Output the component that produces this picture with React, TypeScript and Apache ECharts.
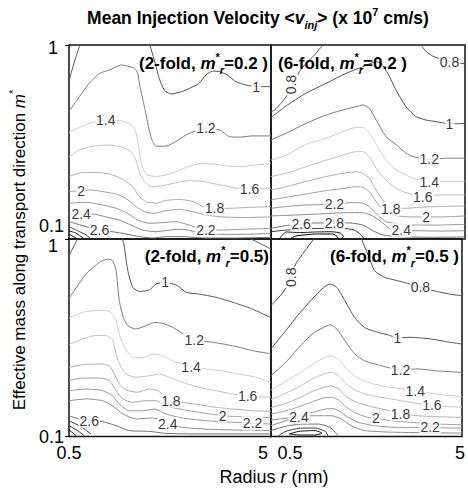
import React, { useEffect, useRef } from "react";
import * as echarts from "echarts";

const FONT = '"Liberation Sans", Arial, Helvetica, sans-serif';

// axis ranges / tick labels
const X_TICKS = [0.5, 5];
const Y_TICKS = [0.1, 1];

// ---------- Panel 1: 2-fold, m*r = 0.2 ----------
const tlLines = [
  { level: 1.0, pts: [[0.745, 1.0], [0.656, 0.871], [0.567, 0.743], [0.507, 0.66]] },
  { level: 1.0, pts: [[2.30, 1.0], [2.40, 0.837], [2.51, 0.673], [2.62, 0.586], [2.77, 0.559], [3.00, 0.574], [3.22, 0.603], [3.40, 0.635], [3.55, 0.70], [3.70, 0.734], [3.85, 0.729], [4.03, 0.70], [4.22, 0.647], [4.44, 0.622], [4.70, 0.61], [5.0, 0.61]] },
  { level: 1.2, pts: [[0.5, 0.455], [0.73, 0.541], [0.95, 0.635], [1.18, 0.714], [1.40, 0.743], [1.66, 0.789], [1.96, 0.759], [2.03, 0.714], [2.08, 0.61], [2.18, 0.481], [2.27, 0.379], [2.35, 0.324], [2.44, 0.301], [2.66, 0.301], [2.88, 0.318], [3.11, 0.344], [3.26, 0.357], [3.55, 0.372], [3.85, 0.365], [3.96, 0.351], [4.07, 0.337], [4.29, 0.335], [4.59, 0.34], [5.0, 0.34]] },
  { level: 1.4, pts: [[0.5, 0.355], [0.73, 0.376], [0.95, 0.394], [1.32, 0.41], [1.66, 0.407], [1.84, 0.394], [1.96, 0.372], [2.03, 0.324], [2.08, 0.266], [2.16, 0.227], [2.25, 0.214], [2.44, 0.21], [2.66, 0.214], [2.88, 0.222], [3.11, 0.234], [3.40, 0.244], [3.70, 0.244], [4.0, 0.238], [4.29, 0.236], [4.59, 0.24], [5.0, 0.245]] },
  { level: 1.6, pts: [[0.5, 0.265], [0.73, 0.288], [1.03, 0.301], [1.40, 0.305], [1.70, 0.297], [1.88, 0.282], [1.99, 0.255], [2.08, 0.218], [2.18, 0.198], [2.33, 0.186], [2.59, 0.188], [2.88, 0.195], [3.18, 0.2], [3.48, 0.198], [3.77, 0.192], [4.07, 0.186], [4.29, 0.182], [4.81, 0.182], [5.0, 0.182]] },
  { level: 1.8, pts: [[0.5, 0.21], [0.80, 0.22], [1.18, 0.22], [1.47, 0.214], [1.73, 0.201], [1.92, 0.186], [2.07, 0.165], [2.22, 0.156], [2.44, 0.153], [2.66, 0.158], [2.96, 0.16], [3.26, 0.156], [3.48, 0.147], [3.74, 0.144], [4.07, 0.144], [4.37, 0.145], [5.0, 0.147]] },
  { level: 2.0, pts: [[0.5, 0.1755], [0.99, 0.179], [1.25, 0.1755], [1.55, 0.1706], [1.77, 0.162], [1.99, 0.147], [2.18, 0.138], [2.40, 0.1355], [2.66, 0.14], [2.96, 0.142], [3.26, 0.138], [3.55, 0.133], [3.92, 0.13], [4.37, 0.129], [5.0, 0.13]] },
  { level: 2.2, pts: [[0.5, 0.153], [0.88, 0.1545], [1.25, 0.1497], [1.55, 0.144], [1.81, 0.1355], [2.03, 0.1253], [2.29, 0.1205], [2.59, 0.1214], [2.88, 0.1228], [3.18, 0.118], [3.55, 0.1112], [3.92, 0.1112], [4.37, 0.1122], [5.0, 0.1135]] },
  { level: 2.4, pts: [[0.5, 0.1346], [1.03, 0.1346], [1.32, 0.13], [1.62, 0.1253], [1.88, 0.118], [2.14, 0.1112], [2.44, 0.109], [2.74, 0.1112], [3.03, 0.1122], [3.40, 0.1079], [3.85, 0.1057], [4.37, 0.1057], [5.0, 0.1069]] },
  { level: 2.6, pts: [[0.5, 0.123], [0.58, 0.1214], [0.88, 0.1158], [1.18, 0.1112], [1.47, 0.109], [1.77, 0.1061], [2.07, 0.1028], [2.36, 0.1012], [2.66, 0.1028], [3.03, 0.1028], [3.55, 0.1012], [4.15, 0.1012], [5.0, 0.102]] },
  { level: 2.8, pts: [[0.5, 0.1158], [0.69, 0.1104], [0.88, 0.105], [0.99, 0.1]] },
  { level: 3.0, pts: [[0.5, 0.1104], [0.66, 0.107], [0.84, 0.1]] },
  { level: 3.2, pts: [[0.5, 0.106], [0.69, 0.1]] },
];
const tlLabels = [
  ["1", 4.67, 0.61], ["1.2", 3.55, 0.372], ["1.4", 1.32, 0.41], ["1.6", 4.52, 0.182],
  ["1.8", 3.74, 0.144], ["2", 0.77, 0.1765], ["2.2", 3.55, 0.1112], ["2.4", 0.77, 0.1346], ["2.6", 1.18, 0.1112],
];

// ---------- Panel 2: 6-fold, m*r = 0.2 ----------
const trLines = [
  { level: 0.8, pts: [[3.98, 1.0], [4.10, 0.924], [4.25, 0.877], [4.40, 0.853], [4.64, 0.82], [5.0, 0.80]] },
  { level: 0.8, pts: [[1.70, 1.0], [1.51, 0.887], [1.31, 0.804], [1.16, 0.729], [1.0, 0.622], [0.85, 0.541], [0.73, 0.5], [0.58, 0.462], [0.5, 0.452]] },
  { level: 1.0, pts: [[0.5, 0.422], [0.85, 0.485], [1.31, 0.564], [1.78, 0.635], [2.24, 0.714], [2.63, 0.773], [2.94, 0.82], [3.05, 0.804], [3.21, 0.714], [3.40, 0.586], [3.63, 0.481], [3.86, 0.428], [4.10, 0.41], [4.33, 0.403], [4.64, 0.392], [5.0, 0.394]] },
  { level: 1.2, pts: [[0.5, 0.324], [0.85, 0.351], [1.31, 0.394], [1.78, 0.436], [2.16, 0.462], [2.47, 0.481], [2.63, 0.491], [2.78, 0.472], [2.94, 0.41], [3.17, 0.337], [3.40, 0.307], [3.63, 0.277], [3.79, 0.266], [4.17, 0.257], [4.56, 0.261], [5.0, 0.261]] },
  { level: 1.4, pts: [[0.5, 0.255], [0.85, 0.27], [1.31, 0.307], [1.78, 0.331], [2.16, 0.357], [2.47, 0.376], [2.63, 0.376], [2.78, 0.351], [2.94, 0.307], [3.17, 0.255], [3.40, 0.227], [3.63, 0.214], [3.79, 0.206], [4.17, 0.197], [4.56, 0.198], [5.0, 0.198]] },
  { level: 1.6, pts: [[0.5, 0.21], [0.85, 0.218], [1.31, 0.236], [1.78, 0.255], [2.16, 0.27], [2.47, 0.282], [2.63, 0.282], [2.78, 0.266], [2.94, 0.231], [3.17, 0.201], [3.40, 0.182], [3.63, 0.1733], [4.02, 0.165], [4.40, 0.1687], [5.0, 0.1687]] },
  { level: 1.8, pts: [[0.5, 0.179], [0.85, 0.186], [1.31, 0.198], [1.78, 0.21], [2.16, 0.218], [2.47, 0.222], [2.63, 0.218], [2.78, 0.206], [2.94, 0.179], [3.09, 0.159], [3.28, 0.144], [3.63, 0.144], [3.94, 0.1456], [4.40, 0.147], [5.0, 0.148]] },
  { level: 2.0, pts: [[0.5, 0.159], [0.85, 0.164], [1.31, 0.1706], [1.78, 0.1775], [2.16, 0.182], [2.47, 0.186], [2.63, 0.1845], [2.78, 0.1755], [2.94, 0.156], [3.09, 0.141], [3.32, 0.133], [3.71, 0.13], [4.10, 0.13], [4.48, 0.13], [5.0, 0.1315]] },
  { level: 2.2, pts: [[0.5, 0.144], [0.85, 0.147], [1.31, 0.1497], [1.97, 0.151], [2.36, 0.1539], [2.63, 0.153], [2.78, 0.147], [2.97, 0.133], [3.17, 0.1228], [3.48, 0.1194], [3.86, 0.118], [4.40, 0.118], [5.0, 0.119]] },
  { level: 2.4, pts: [[0.5, 0.1315], [1.08, 0.133], [1.62, 0.1346], [2.24, 0.1367], [2.63, 0.1367], [2.86, 0.1315], [3.09, 0.121], [3.24, 0.1135], [3.52, 0.1112], [3.86, 0.1104], [4.40, 0.1099], [5.0, 0.1104]] },
  { level: 2.6, pts: [[0.5, 0.1135], [0.85, 0.1172], [1.20, 0.1194], [1.54, 0.121], [2.32, 0.121], [2.63, 0.118], [2.86, 0.1104], [3.09, 0.105], [3.48, 0.1028], [4.25, 0.102], [5.0, 0.1024]] },
  { level: 2.8, pts: [[0.5, 0.109], [0.85, 0.1112], [1.31, 0.1127], [1.78, 0.1135], [2.16, 0.1135], [2.43, 0.1112], [2.59, 0.105], [2.66, 0.1]] },
  { level: 3.0, pts: [[0.69, 0.1], [0.85, 0.1087], [1.16, 0.1079], [1.54, 0.1087], [1.93, 0.109], [2.12, 0.107], [2.18, 0.1028], [2.12, 0.1]] },
  { level: 3.2, pts: [[0.93, 0.1], [1.08, 0.1036], [1.54, 0.1061], [1.93, 0.1061], [2.05, 0.102], [2.01, 0.1]] },
];
const trLabels = [
  ["0.8", 4.64, 0.82], ["0.8", 0.97, 0.625, 90], ["1", 4.64, 0.392], ["1.2", 4.17, 0.257], ["1.4", 4.17, 0.197],
  ["1.6", 4.02, 0.165], ["1.8", 3.28, 0.143], ["2", 4.10, 0.13], ["2.2", 1.97, 0.151], ["2.4", 3.52, 0.1112],
  ["2.6", 1.20, 0.1194], ["2.8", 1.97, 0.121],
];

// ---------- Panel 3: 2-fold, m*r = 0.5 ----------
const blLines = [
  { level: 1.0, pts: [[0.69, 1.0], [0.52, 0.84], [0.5, 0.82]] },
  { level: 0.8, pts: [[4.55, 1.0], [4.78, 0.944], [5.0, 0.89]] },
  { level: 1.0, pts: [[1.69, 1.0], [1.72, 0.95], [1.81, 0.692], [1.92, 0.569], [2.07, 0.543], [2.29, 0.552], [2.44, 0.592], [2.64, 0.604], [2.92, 0.58], [3.11, 0.537], [3.40, 0.526], [3.77, 0.507], [4.15, 0.478], [4.52, 0.448], [4.74, 0.426], [5.0, 0.40]] },
  { level: 1.2, pts: [[0.5, 0.5], [0.88, 0.665], [1.18, 0.762], [1.36, 0.792], [1.47, 0.776], [1.55, 0.692], [1.62, 0.487], [1.71, 0.401], [1.81, 0.364], [1.99, 0.35], [2.22, 0.364], [2.40, 0.378], [2.59, 0.374], [2.81, 0.357], [2.99, 0.337], [3.29, 0.308], [3.70, 0.3], [4.15, 0.288], [4.59, 0.272], [5.0, 0.262]] },
  { level: 1.4, pts: [[0.5, 0.398], [0.80, 0.425], [1.10, 0.434], [1.32, 0.434], [1.44, 0.425], [1.55, 0.385], [1.62, 0.33], [1.70, 0.294], [1.81, 0.267], [1.92, 0.252], [2.14, 0.25], [2.36, 0.262], [2.59, 0.256], [2.81, 0.242], [3.22, 0.224], [3.55, 0.22], [3.92, 0.215], [4.29, 0.207], [4.67, 0.1995], [5.0, 0.188]] },
  { level: 1.6, pts: [[0.5, 0.292], [0.80, 0.312], [1.10, 0.325], [1.32, 0.325], [1.47, 0.307], [1.55, 0.262], [1.66, 0.224], [1.77, 0.207], [1.99, 0.1995], [2.29, 0.203], [2.51, 0.207], [2.74, 0.1995], [3.03, 0.188], [3.40, 0.1774], [3.77, 0.1706], [4.15, 0.1641], [4.48, 0.1597], [5.0, 0.158]] },
  { level: 1.8, pts: [[0.5, 0.224], [0.80, 0.231], [1.18, 0.233], [1.40, 0.228], [1.51, 0.207], [1.62, 0.1845], [1.77, 0.172], [2.03, 0.1675], [2.29, 0.174], [2.48, 0.1706], [2.66, 0.158], [2.77, 0.1518], [3.0, 0.149], [3.40, 0.145], [3.77, 0.1405], [4.15, 0.1377], [4.59, 0.135], [5.0, 0.134]] },
  { level: 2.0, pts: [[0.5, 0.192], [0.80, 0.1977], [1.18, 0.1977], [1.40, 0.192], [1.55, 0.1706], [1.70, 0.155], [1.92, 0.149], [2.22, 0.1518], [2.44, 0.1518], [2.66, 0.143], [2.96, 0.1377], [3.40, 0.1325], [3.92, 0.1274], [4.29, 0.126], [4.67, 0.125], [5.0, 0.125]] },
  { level: 2.2, pts: [[0.5, 0.1706], [0.88, 0.174], [1.25, 0.1706], [1.47, 0.161], [1.62, 0.146], [1.84, 0.135], [2.14, 0.135], [2.40, 0.1377], [2.66, 0.13], [3.03, 0.124], [3.55, 0.1203], [4.15, 0.118], [4.59, 0.1166], [5.0, 0.1156]] },
  { level: 2.4, pts: [[0.5, 0.1518], [0.88, 0.155], [1.25, 0.1518], [1.47, 0.143], [1.70, 0.13], [1.99, 0.1228], [2.36, 0.124], [2.59, 0.1213], [2.70, 0.1156], [3.03, 0.1112], [3.55, 0.109], [4.15, 0.1079], [5.0, 0.1071]] },
  { level: 2.6, pts: [[0.5, 0.1274], [0.73, 0.1226], [0.95, 0.1203], [1.25, 0.1189], [1.55, 0.1135], [1.84, 0.1071], [2.29, 0.1062], [2.66, 0.1037], [3.40, 0.103], [5.0, 0.103]] },
  { level: 2.8, pts: [[0.5, 0.1203], [0.77, 0.112], [0.99, 0.103]] },
  { level: 3.0, pts: [[0.5, 0.1135], [0.69, 0.1071], [0.84, 0.101]] },
  { level: 3.2, pts: [[0.5, 0.108], [0.66, 0.101]] },
];
const blLabels = [
  ["1", 2.64, 0.604], ["1.2", 3.29, 0.308], ["1.4", 3.22, 0.224], ["1.6", 4.48, 0.16], ["1.8", 2.77, 0.1518],
  ["2", 3.92, 0.1274], ["2.2", 4.59, 0.1166], ["2.4", 2.70, 0.1156], ["2.6", 0.95, 0.1203],
];

// ---------- Panel 4: 6-fold, m*r = 0.5 ----------
const brLines = [
  { level: 0.8, pts: [[1.51, 1.0], [1.23, 0.832], [1.08, 0.747], [0.96, 0.64], [0.81, 0.547], [0.65, 0.497], [0.54, 0.469], [0.5, 0.46]] },
  { level: 0.8, pts: [[2.63, 1.0], [2.78, 0.839], [2.94, 0.692], [3.17, 0.64], [3.48, 0.615], [3.71, 0.597], [4.02, 0.569], [4.40, 0.543], [4.71, 0.526], [5.0, 0.516]] },
  { level: 1.0, pts: [[0.5, 0.278], [0.85, 0.344], [1.16, 0.417], [1.47, 0.497], [1.70, 0.558], [1.89, 0.592], [2.05, 0.569], [2.24, 0.487], [2.47, 0.401], [2.70, 0.357], [3.01, 0.337], [3.24, 0.328], [3.48, 0.316], [3.79, 0.318], [4.25, 0.312], [4.71, 0.3], [5.0, 0.294]] },
  { level: 1.2, pts: [[0.5, 0.203], [0.85, 0.238], [1.16, 0.283], [1.47, 0.33], [1.74, 0.357], [1.89, 0.368], [2.05, 0.35], [2.24, 0.306], [2.47, 0.262], [2.70, 0.242], [3.01, 0.231], [3.55, 0.217], [3.94, 0.22], [4.40, 0.215], [5.0, 0.211]] },
  { level: 1.4, pts: [[0.5, 0.172], [0.85, 0.19], [1.16, 0.209], [1.47, 0.231], [1.74, 0.25], [1.93, 0.256], [2.09, 0.246], [2.28, 0.22], [2.51, 0.1995], [2.86, 0.1858], [3.32, 0.1774], [3.90, 0.1706], [4.40, 0.1641], [5.0, 0.159]] },
  { level: 1.6, pts: [[0.5, 0.154], [0.85, 0.1655], [1.16, 0.1787], [1.47, 0.1954], [1.74, 0.207], [1.93, 0.211], [2.09, 0.203], [2.28, 0.1845], [2.51, 0.1706], [2.86, 0.161], [3.32, 0.155], [3.79, 0.149], [4.29, 0.1443], [4.71, 0.1416], [5.0, 0.1405]] },
  { level: 1.8, pts: [[0.5, 0.14], [0.85, 0.147], [1.16, 0.1567], [1.47, 0.169], [1.74, 0.1774], [1.93, 0.18], [2.09, 0.174], [2.28, 0.159], [2.51, 0.149], [2.86, 0.1416], [3.24, 0.136], [3.55, 0.13], [3.94, 0.1274], [4.40, 0.126], [5.0, 0.125]] },
  { level: 2.0, pts: [[0.5, 0.13], [0.85, 0.135], [1.16, 0.1416], [1.47, 0.15], [1.74, 0.1567], [1.93, 0.158], [2.09, 0.153], [2.28, 0.1405], [2.51, 0.131], [2.78, 0.125], [2.97, 0.1236], [3.32, 0.1203], [3.79, 0.118], [4.40, 0.1156], [5.0, 0.1148]] },
  { level: 2.2, pts: [[0.5, 0.1213], [1.0, 0.125], [1.47, 0.1325], [1.78, 0.1377], [1.97, 0.1383], [2.12, 0.134], [2.32, 0.125], [2.55, 0.118], [2.94, 0.1135], [3.48, 0.1112], [3.86, 0.1112], [4.25, 0.112], [4.64, 0.1104], [5.0, 0.1104]] },
  { level: 2.4, pts: [[0.5, 0.1135], [0.85, 0.1203], [1.16, 0.126], [1.54, 0.1274], [1.93, 0.1274], [2.16, 0.1226], [2.39, 0.1135], [2.70, 0.1071], [3.48, 0.105], [5.0, 0.104]] },
  { level: 2.6, pts: [[0.5, 0.1071], [0.85, 0.1127], [1.23, 0.1156], [1.62, 0.1156], [1.89, 0.1112], [2.05, 0.103], [2.09, 0.1]] },
  { level: 2.8, pts: [[0.65, 0.1], [0.85, 0.1062], [1.16, 0.11], [1.54, 0.1104], [1.78, 0.1062], [1.85, 0.1]] },
  { level: 3.0, pts: [[0.93, 0.103], [1.16, 0.1062], [1.54, 0.1071], [1.70, 0.104], [1.54, 0.1018], [1.16, 0.1018], [0.93, 0.103]] },
];
const brLabels = [
  ["0.8", 0.96, 0.64, 90], ["0.8", 4.02, 0.569], ["1", 3.48, 0.316], ["1.2", 3.55, 0.217], ["1.4", 3.90, 0.1706],
  ["1.6", 4.29, 0.1443], ["1.8", 3.55, 0.13], ["2", 2.97, 0.1236], ["2.2", 4.25, 0.112], ["2.4", 1.16, 0.126],
];

const LEVEL_COLORS: Record<string, string> = {
  "0.8": "#555555", "1": "#555555", "1.2": "#7c7c7c", "1.4": "#cdcdcd", "1.6": "#c2c2c2",
  "1.8": "#b0b0b0", "2": "#a2a2a2", "2.2": "#979797", "2.4": "#8c8c8c", "2.6": "#707070",
  "2.8": "#3a3a3a", "3": "#151515", "3.2": "#000000",
};

const GRIDS = [
  { left: 69, top: 45, width: 202, height: 194 },
  { left: 271, top: 45, width: 194, height: 194 },
  { left: 69, top: 239, width: 202, height: 197.5 },
  { left: 271, top: 239, width: 194, height: 197.5 },
];

function panelSeries(idx: number, lines: any[], labels: any[]) {
  const s: any[] = lines.map((l) => ({
    type: "line",
    xAxisIndex: idx,
    yAxisIndex: idx,
    data: l.pts,
    symbol: "none",
    smooth: 0.2,
    silent: true,
    z: 2,
    lineStyle: { color: LEVEL_COLORS[String(l.level)], width: 1 },
  }));
  s.push({
    type: "scatter",
    xAxisIndex: idx,
    yAxisIndex: idx,
    symbolSize: 1,
    silent: true,
    z: 5,
    itemStyle: { color: "rgba(0,0,0,0)" },
    label: {
      show: true,
      position: "inside",
      formatter: (p: any) => p.name,
      fontSize: 14,
      fontFamily: FONT,
      color: "#000",
      backgroundColor: "#fff",
      padding: [0, 1],
    },
    data: labels.map((d) => ({
      name: d[0],
      value: [d[1], d[2]],
      label: d[3] ? { rotate: d[3] } : undefined,
    })),
  });
  return s;
}

const tickFont = { fontSize: 18, fontFamily: FONT, color: "#000" };

export default function App() {
  const ref = useRef<HTMLDivElement>(null);
  useEffect(() => {
    if (!ref.current) return;
    const chart = echarts.init(ref.current, null, { renderer: "svg" });
    const xAxis = GRIDS.map((_, i) => ({
      type: "value",
      gridIndex: i,
      min: X_TICKS[0],
      max: X_TICKS[1],
      interval: X_TICKS[1] - X_TICKS[0],
      axisLine: { show: false },
      axisTick: { show: false },
      splitLine: { show: false },
      axisLabel:
        i < 2
          ? { show: false }
          : {
              show: true,
              margin: 7,
              ...tickFont,
              formatter: (v: number) => (v < 1 ? "{a|0.5}" : "{b|5}"),
              rich:
                i === 2
                  ? { a: { ...tickFont }, b: { ...tickFont, padding: [0, 16, 0, 0] } }
                  : { a: { ...tickFont, padding: [0, 0, 0, 38] }, b: { ...tickFont, padding: [0, 4, 0, 0] } },
            },
    }));
    const yAxis = GRIDS.map((_, i) => ({
      type: "log",
      logBase: 10,
      gridIndex: i,
      min: Y_TICKS[0],
      max: Y_TICKS[1],
      axisLine: { show: false },
      splitLine: { show: false },
      minorSplitLine: { show: false },
      axisTick: i % 2 === 0 ? { show: true, length: 4, lineStyle: { color: "#000" } } : { show: false },
      axisLabel:
        i % 2 === 1
          ? { show: false }
          : {
              show: true,
              margin: 5,
              ...tickFont,
              formatter: (v: number) => (v < 0.5 ? "{lo|0.1}" : "{hi|1}"),
              rich:
                i === 0
                  ? { lo: { ...tickFont, padding: [0, 0, 26, 0] }, hi: { ...tickFont, padding: [5, 6, 0, 0] } }
                  : { lo: { ...tickFont }, hi: { ...tickFont, padding: [14, 6, 0, 0] } },
            },
    }));

    const bold = { fontFamily: FONT, fontWeight: "bold", fontSize: 17, fill: "#000", lineHeight: 24 };
    const boldIt = { ...bold, fontStyle: "italic" };
    const sub = { fontFamily: FONT, fontWeight: "bold", fontStyle: "italic", fontSize: 11, fill: "#000", verticalAlign: "bottom" };
    const sup = { fontFamily: FONT, fontWeight: "bold", fontSize: 11, fill: "#000", verticalAlign: "top" };
    const panelRich = { b: bold, bi: boldIt, sub, sup };
    const titleRich = {
      b: { ...bold, fontSize: 17.5 },
      bi: { ...boldIt, fontSize: 17.5 },
      sub,
      sup,
    };
    const norm = { fontFamily: FONT, fontSize: 17, fill: "#000", lineHeight: 24 };
    const normIt = { ...norm, fontStyle: "italic" };
    const nsup = { fontFamily: FONT, fontSize: 11, fill: "#000", verticalAlign: "top" };

    const panelText = (x: number, y: number, align: string, fold: string, mr: string) => ({
      type: "text",
      x,
      y,
      z: 100,
      silent: true,
      style: {
        text: `{b|(${fold}-fold, }{bi|m}{sup|*}{sub|r}{b|=${mr})}`,
        align,
        verticalAlign: "middle",
        rich: panelRich,
      },
    });

    chart.setOption({
      animation: false,
      backgroundColor: "#fff",
      grid: GRIDS.map((g) => ({ ...g, show: true, borderColor: "#111", borderWidth: 1.5, backgroundColor: "transparent" })),
      xAxis,
      yAxis,
      series: [
        ...panelSeries(0, tlLines, tlLabels),
        ...panelSeries(1, trLines, trLabels),
        ...panelSeries(2, blLines, blLabels),
        ...panelSeries(3, brLines, brLabels),
      ],
      graphic: [
        {
          type: "text",
          x: 258,
          y: 18,
          z: 100,
          silent: true,
          style: {
            text: "{b|Mean Injection Velocity <}{bi|v}{sub|inj}{b|> (x 10}{sup|7}{b| cm/s)}",
            align: "center",
            verticalAlign: "middle",
            rich: titleRich,
          },
        },
        panelText(268, 63, "right", "2", "0.2 "),
        panelText(278, 63, "left", "6", "0.2 "),
        panelText(269, 256, "right", "2", "0.5"),
        panelText(459, 256, "right", "6", "0.5 "),
        {
          type: "text",
          x: 19,
          y: 250,
          rotation: Math.PI / 2,
          z: 100,
          silent: true,
          style: {
            text: "{n|Effective mass along transport direction }{i|m}{s|*}",
            align: "center",
            verticalAlign: "middle",
            rich: { n: norm, i: normIt, s: nsup },
          },
        },
        {
          type: "text",
          x: 274,
          y: 477,
          z: 100,
          silent: true,
          style: {
            text: "{n|Radius }{i|r}{n| (nm)}",
            align: "center",
            verticalAlign: "middle",
            rich: { n: { ...norm, fontSize: 18 }, i: { ...normIt, fontSize: 18 } },
          },
        },
      ],
    });
    return () => chart.dispose();
  }, []);
  return (
    <div
      ref={ref}
      style={{ position: "absolute", left: 0, top: 0, width: 468, height: 489, background: "#fff" }}
    />
  );
}
